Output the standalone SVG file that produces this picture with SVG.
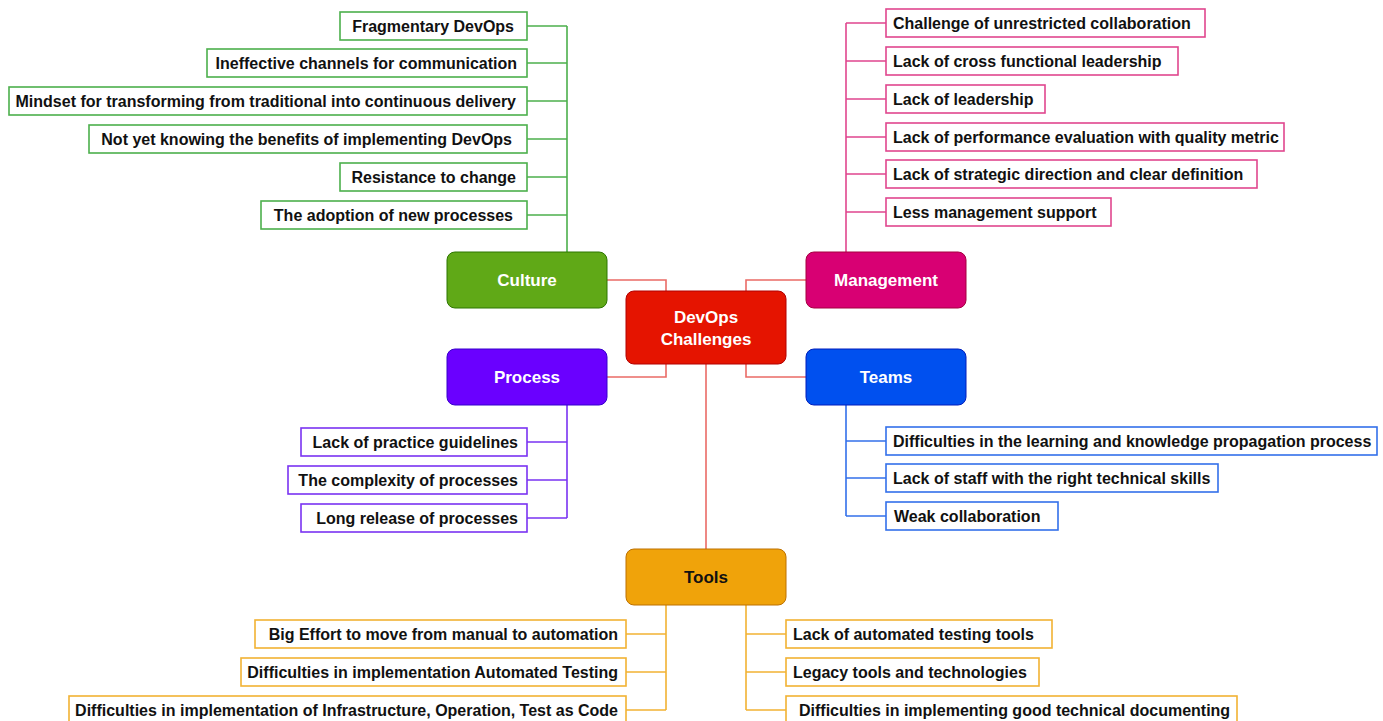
<svg xmlns="http://www.w3.org/2000/svg" width="1383" height="721" viewBox="0 0 1383 721">
  <style>
    text { font-family: "Liberation Sans", Arial, sans-serif; font-weight: bold; font-size: 16px; dominant-baseline: central; stroke: none; }
    .main text { fill: #ffffff; text-anchor: middle; font-size: 17px; }
    .leaf rect { fill: #ffffff; stroke-width: 1.6; }
    .leaf text { fill: #111111; }
    .r text { text-anchor: end; }
    .l text { text-anchor: start; }
    .edges path { fill: none; stroke-width: 1.6; }
    .c-culture { stroke: #4cb04c; }
    .c-mgmt { stroke: #e0468e; }
    .c-proc { stroke: #7a33f2; }
    .c-teams { stroke: #3370ea; }
    .c-tools { stroke: #f2b233; }
    .c-hub { stroke: #ea6b66; }
  </style>

  <!-- connectors -->
  <g class="edges">
    <path class="c-hub" d="M607 280 H666 V291 M806 280 H746 V291 M607 377 H666 V364 M806 377 H746 V364 M706 364 V549"/>
    <path class="c-culture" d="M567 252 V26 M527 26 H567 M527 63 H567 M527 101 H567 M527 139 H567 M527 177 H567 M527 215 H567"/>
    <path class="c-mgmt" d="M846 252 V23 M846 23 H886 M846 61 H886 M846 99 H886 M846 137 H886 M846 174 H886 M846 212 H886"/>
    <path class="c-proc" d="M567 405 V518 M527 442 H567 M527 480 H567 M527 518 H567"/>
    <path class="c-teams" d="M846 405 V516 M846 441 H886 M846 478 H886 M846 516 H886"/>
    <path class="c-tools" d="M666 605 V710 M626 634 H666 M626 672 H666 M626 710 H666 M746 605 V710 M746 634 H786 M746 672 H786 M746 710 H786"/>
  </g>

  <!-- hub and branch nodes -->
  <g id="devops-challenges" class="main">
    <rect x="626" y="291" width="160" height="73" rx="8" fill="#e51400" stroke="#b20000"/>
    <text x="706" y="317">DevOps</text>
    <text x="706" y="339">Challenges</text>
  </g>
  <g id="culture" class="main">
    <rect x="447" y="252" width="160" height="56" rx="8" fill="#60a917" stroke="#2d7600"/>
    <text x="527" y="280">Culture</text>
  </g>
  <g id="management" class="main">
    <rect x="806" y="252" width="160" height="56" rx="8" fill="#d80073" stroke="#a50040"/>
    <text x="886" y="280">Management</text>
  </g>
  <g id="process" class="main">
    <rect x="447" y="349" width="160" height="56" rx="8" fill="#6a00ff" stroke="#3700cc"/>
    <text x="527" y="377">Process</text>
  </g>
  <g id="teams" class="main">
    <rect x="806" y="349" width="160" height="56" rx="8" fill="#0050ef" stroke="#001dbc"/>
    <text x="886" y="377">Teams</text>
  </g>
  <g id="tools" class="main">
    <rect x="626" y="549" width="160" height="56" rx="8" fill="#f0a30a" stroke="#bd7000"/>
    <text x="706" y="577" style="fill:#111111">Tools</text>
  </g>

  <!-- culture items -->
  <g class="leaf r c-culture">
    <g id="cul-1"><rect x="340" y="12" width="187" height="28"/><text x="514" y="26">Fragmentary DevOps</text></g>
    <g id="cul-2"><rect x="207" y="49" width="320" height="28"/><text x="517" y="63">Ineffective channels for communication</text></g>
    <g id="cul-3"><rect x="9" y="87" width="518" height="28"/><text x="516" y="101">Mindset for transforming from traditional into continuous delivery</text></g>
    <g id="cul-4"><rect x="89" y="125" width="438" height="28"/><text x="512" y="139">Not yet knowing the benefits of implementing DevOps</text></g>
    <g id="cul-5"><rect x="340" y="163" width="187" height="28"/><text x="516" y="177">Resistance to change</text></g>
    <g id="cul-6"><rect x="261" y="201" width="266" height="28"/><text x="513" y="215">The adoption of new processes</text></g>
  </g>

  <!-- management items -->
  <g class="leaf l c-mgmt">
    <g id="mgt-1"><rect x="886" y="9" width="319" height="28"/><text x="893" y="23">Challenge of unrestricted collaboration</text></g>
    <g id="mgt-2"><rect x="886" y="47" width="292" height="28"/><text x="893" y="61">Lack of cross functional leadership</text></g>
    <g id="mgt-3"><rect x="886" y="85" width="159" height="28"/><text x="893" y="99">Lack of leadership</text></g>
    <g id="mgt-4"><rect x="886" y="123" width="398" height="28"/><text x="893" y="137">Lack of performance evaluation with quality metric</text></g>
    <g id="mgt-5"><rect x="886" y="160" width="371" height="28"/><text x="893" y="174">Lack of strategic direction and clear definition</text></g>
    <g id="mgt-6"><rect x="886" y="198" width="225" height="28"/><text x="893" y="212">Less management support</text></g>
  </g>

  <!-- process items -->
  <g class="leaf r c-proc">
    <g id="pro-1"><rect x="301" y="428" width="226" height="28"/><text x="518" y="442">Lack of practice guidelines</text></g>
    <g id="pro-2"><rect x="288" y="466" width="239" height="28"/><text x="518" y="480">The complexity of processes</text></g>
    <g id="pro-3"><rect x="301" y="504" width="226" height="28"/><text x="518" y="518">Long release of processes</text></g>
  </g>

  <!-- teams items -->
  <g class="leaf l c-teams">
    <g id="tea-1"><rect x="886" y="427" width="491" height="28"/><text x="893" y="441">Difficulties in the learning and knowledge propagation process</text></g>
    <g id="tea-2"><rect x="886" y="464" width="332" height="28"/><text x="893" y="478">Lack of staff with the right technical skills</text></g>
    <g id="tea-3"><rect x="886" y="502" width="172" height="28"/><text x="894" y="516">Weak collaboration</text></g>
  </g>

  <!-- tools items -->
  <g class="leaf r c-tools">
    <g id="too-1"><rect x="255" y="620" width="371" height="28"/><text x="618" y="634">Big Effort to move from manual to automation</text></g>
    <g id="too-2"><rect x="241" y="658" width="385" height="28"/><text x="618" y="672">Difficulties in implementation Automated Testing</text></g>
    <g id="too-3"><rect x="69" y="696" width="557" height="28"/><text x="618" y="710">Difficulties in implementation of Infrastructure, Operation, Test as Code</text></g>
  </g>
  <g class="leaf l c-tools">
    <g id="too-4"><rect x="786" y="620" width="266" height="28"/><text x="793" y="634">Lack of automated testing tools</text></g>
    <g id="too-5"><rect x="786" y="658" width="253" height="28"/><text x="793" y="672">Legacy tools and technologies</text></g>
    <g id="too-6"><rect x="786" y="696" width="451" height="28"/><text x="799" y="710">Difficulties in implementing good technical documenting</text></g>
  </g>
</svg>
